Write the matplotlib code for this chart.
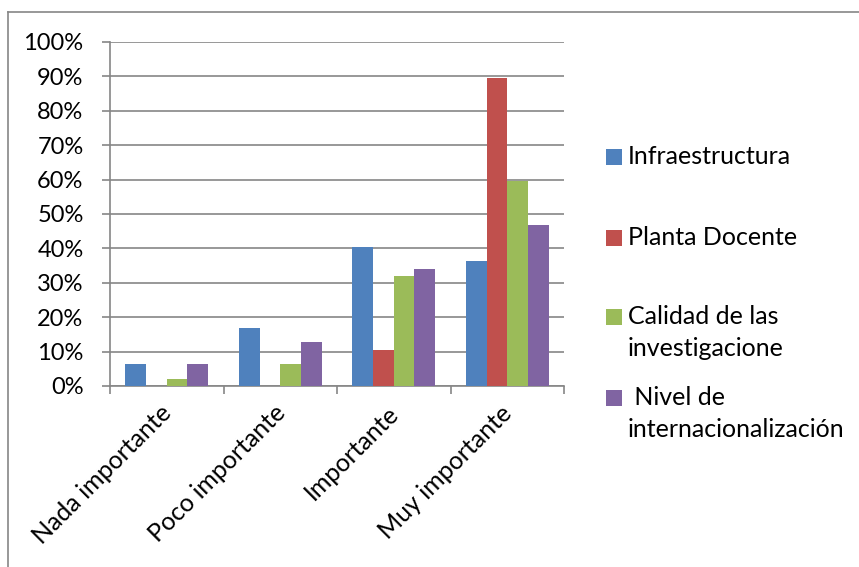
import matplotlib
matplotlib.use("Agg")
import matplotlib.pyplot as plt
import matplotlib.transforms as mtrans
import numpy as np
from matplotlib.lines import Line2D
from matplotlib.patches import Rectangle
from matplotlib.ticker import FuncFormatter

categories = ["Nada importante", "Poco importante", "Importante", "Muy importante"]
series_names = ["Infraestructura", "Planta Docente", "Calidad de las\ninvestigacione", " Nivel de\ninternacionalización"]
infraestructura = [6.4, 17.0, 40.4, 36.2]
planta_docente = [0.0, 0.0, 10.6, 89.4]
calidad = [2.1, 6.4, 31.9, 59.6]
nivel = [6.4, 12.8, 34.0, 46.8]
series_values = [infraestructura, planta_docente, calidad, nivel]
colors = ["#4F81BD", "#C0504D", "#9BBB59", "#8064A2"]
yticks = list(range(0, 101, 10))

plt.rcParams['font.family'] = ['Lato', 'DejaVu Sans']
FS_Y = 17
FS_X = 18
FS_L = 18
grid_c = "#868686"

W, H = 859, 567
fig = plt.figure(figsize=(W / 100, H / 100), dpi=100)
ax = fig.add_axes([110 / W, 1 - 386 / H, (564 - 110) / W, (386 - 42) / H])

x = np.arange(len(categories))
w = 0.182
for i, (vals, c) in enumerate(zip(series_values, colors)):
    ax.bar(x + (i - 1.5) * w, vals, width=w, color=c, zorder=3, linewidth=0)

ax.set_xlim(-0.5, 3.5)
ax.set_ylim(0, 100)
ax.set_yticks(yticks)
ax.yaxis.set_major_formatter(FuncFormatter(lambda v, p: f"{int(v)}%"))
ax.yaxis.grid(True, color=grid_c, linewidth=1.2, zorder=0)
ax.set_axisbelow(True)
for s in ["top", "right"]:
    ax.spines[s].set_visible(False)
for s in ["left", "bottom"]:
    ax.spines[s].set_color(grid_c)
    ax.spines[s].set_linewidth(1.2)
ax.tick_params(axis="y", length=6, width=1.2, color=grid_c, labelsize=FS_Y, pad=13)

ax.set_xticks(x)
ax.set_xticks(np.arange(-0.5, 4, 1), minor=True)
ax.tick_params(axis="x", which="major", length=0, pad=11)
ax.tick_params(axis="x", which="minor", length=6, width=1.2, color=grid_c)
ax.set_xticklabels(categories, rotation=45, ha="right", va="top",
                   rotation_mode="anchor", fontsize=FS_X)
for lbl in ax.get_xticklabels():
    lbl.set_transform(lbl.get_transform() + mtrans.ScaledTranslation(-7 / 100, 0, fig.dpi_scale_trans))

# outer frame
fig.add_artist(Line2D([8 / W, 8 / W], [1 - 12 / H, 0], transform=fig.transFigure, color=grid_c, linewidth=1.2))
fig.add_artist(Line2D([8 / W, 1], [1 - 12 / H, 1 - 12 / H], transform=fig.transFigure, color=grid_c, linewidth=1.2))

# legend
leg_sq_y = [157, 238, 317, 398]
for name, c, yc in zip(series_names, colors, leg_sq_y):
    fig.add_artist(Rectangle((606 / W, 1 - (yc + 8) / H), 16 / W, 16 / H,
                             transform=fig.transFigure, color=c, linewidth=0))
    fig.text(628 / W, 1 - (yc - 12) / H, name, fontsize=FS_L, va="top", ha="left",
             linespacing=1.45)

fig.savefig("out.png", dpi=100)
